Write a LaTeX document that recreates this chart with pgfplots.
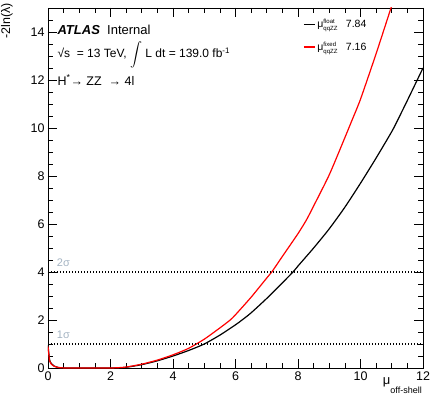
\documentclass[border=0pt]{standalone}
\usepackage{amsmath}
\usepackage{fontspec}
\setmainfont{Liberation Sans}
\usepackage{pgfplots}
\pgfplotsset{compat=1.18}
\definecolor{sigmagray}{RGB}{165,180,195}
\definecolor{rootred}{RGB}{255,0,0}

\begin{document}
\begin{tikzpicture}
\begin{axis}[
  scale only axis,
  width=375pt, height=360pt,
  xmin=0, xmax=12, ymin=0, ymax=15,
  xtick={0,2,...,12}, ytick={0,2,...,14},
  minor xtick={0.5,1,...,12}, minor ytick={0.5,1,...,15},
  tick pos=both, tick align=inside,
  major tick length=9pt, minor tick length=5pt,
  every tick/.style={black, line width=0.6pt},
  axis line style={line width=0.6pt},
  ticklabel style={font=\fontsize{12.5}{12.5}\selectfont},
  /pgf/number format/assume math mode=true,
  clip mode=individual,
  legend style={draw=none, fill=none, at={(rel axis cs:0.68,0.975)}, anchor=north west,
    font=\fontsize{10.5}{10.5}\selectfont, row sep=9pt, inner sep=0pt, cells={anchor=west}},
  legend image code/.code={\draw[#1] (0pt,0pt) -- (11pt,0pt);},
]
\addplot[black, line width=1.2pt, smooth, tension=0.4] coordinates {
 (0,0.95)(0.05,0.35)(0.1,0.2)(0.2,0.08)(0.3,0.03)(0.4,0.01)(0.6,0)(1.0,0)(1.5,0)(2.0,0)(2.2,0.0)
 (2.5,0.03)(3.0,0.14)(3.5,0.3)(4.0,0.5)(4.5,0.73)(5.0,1.0)(5.5,1.37)(6.0,1.8)(6.21,2.0)
 (6.5,2.3)(7.0,2.9)(7.5,3.55)(7.84,4.0)(8.0,4.25)(8.5,5.0)(9.0,5.8)(9.5,6.7)(10.0,7.7)
 (10.5,8.75)(11.0,9.85)(11.19,10.33)(11.5,11.15)(12.0,12.5)};
\addlegendentry{μ$^{\text{\fontsize{6}{6}\selectfont float}}_{\text{\fontsize{6}{6}\selectfont qqZZ}}$\hspace{8pt}7.84}
\addplot[rootred, line width=1.2pt, smooth, tension=0.4] coordinates {
 (0,0.9)(0.05,0.3)(0.1,0.17)(0.2,0.07)(0.3,0.03)(0.4,0.01)(0.6,0)(1.0,0)(1.5,0)(2.0,0)
 (2.2,0.01)(2.5,0.04)(3.0,0.16)(3.5,0.33)(4.0,0.55)(4.5,0.82)(5.0,1.2)(5.5,1.67)(5.83,2.0)
 (6.0,2.22)(6.5,2.95)(7.0,3.75)(7.16,4.0)(7.5,4.65)(8.0,5.6)(8.27,6.17)(8.5,6.75)
 (9.0,8.05)(9.5,9.6)(9.73,10.33)(10.0,11.2)(10.5,13.1)(11.0,15.1)};
\addlegendentry{μ$^{\text{\fontsize{6}{6}\selectfont fixed}}_{\text{\fontsize{6}{6}\selectfont qqZZ}}$\hspace{8pt}7.16}
\addplot[black, line width=1.1pt, dash pattern=on 1.4pt off 1.6pt, forget plot] coordinates {(0,4)(12,4)};
\addplot[black, line width=1.1pt, dash pattern=on 1.4pt off 1.6pt, forget plot] coordinates {(0,1)(12,1)};

\node[anchor=south west, text=sigmagray, font=\fontsize{11}{11}\selectfont, inner sep=0pt] at (axis cs:0.28,4.2) {2σ};
\node[anchor=south west, text=sigmagray, font=\fontsize{11}{11}\selectfont, inner sep=0pt] at (axis cs:0.28,1.2) {1σ};

\node[anchor=west, inner sep=0pt, font=\fontsize{13}{13}\selectfont] at (rel axis cs:0.025,0.94) {\textbf{\textit{ATLAS}}\ \ Internal};
\node[anchor=west, inner sep=0pt, font=\fontsize{12}{12}\selectfont] at (rel axis cs:0.025,0.87) {√s\ \ = 13 TeV, $\displaystyle\int$ L dt = 139.0 fb$^{\text{\fontsize{8}{8}\selectfont -1}}$};
\node[anchor=west, inner sep=0pt, font=\fontsize{12.5}{12.5}\selectfont] at (rel axis cs:0.025,0.80) {H$^{\text{*}}$→ ZZ\ \ → 4l};

\node[rotate=90, anchor=south east, inner sep=0pt, font=\fontsize{12.5}{12.5}\selectfont] at ([xshift=-35pt,yshift=5pt]rel axis cs:0,1) {-2ln(λ)};
\node[anchor=north east, inner sep=0pt] at ([yshift=-9pt,xshift=-1pt]rel axis cs:1,0) {{\fontsize{13}{13}\selectfont μ}\raisebox{-9pt}{\fontsize{9}{9}\selectfont off-shell}};
\end{axis}
\pgfresetboundingbox
\path ([shift={(-48pt,-34pt)}]current axis.south west) rectangle ([shift={(7pt,8pt)}]current axis.north east);
\end{tikzpicture}
\end{document}
